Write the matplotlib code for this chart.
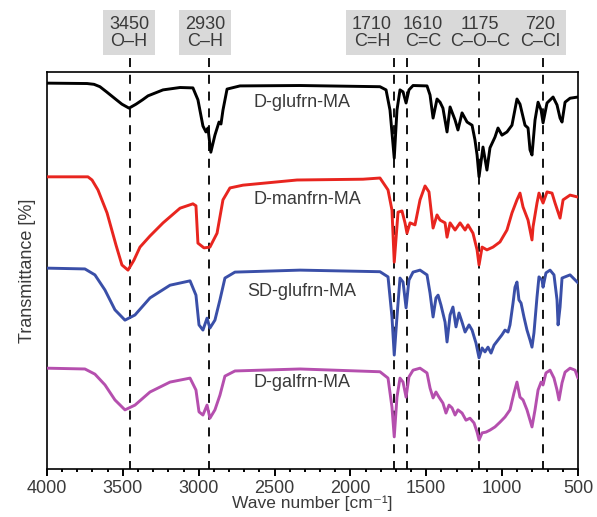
import numpy as np
import matplotlib.pyplot as plt
import matplotlib.transforms as mtransforms

plt.rcParams['font.family'] = ['Liberation Sans', 'DejaVu Sans']

# D-glufrn-MA (preto)
wn_glu = [4000, 3736, 3690, 3651, 3604, 3539, 3506, 3459, 3413, 3370, 3334, 3235, 3123, 3038, 3005,
          2972, 2952, 2939, 2920, 2893, 2866, 2853, 2840, 2813, 2728, 2332, 1805, 1765, 1739, 1711,
          1693, 1673, 1653, 1633, 1614, 1587, 1495, 1475, 1455, 1429, 1409, 1390, 1363, 1343, 1310,
          1291, 1264, 1231, 1198, 1179, 1165, 1152, 1126, 1100, 1080, 1047, 1027, 1001, 968, 935, 902,
          882, 849, 829, 816, 803, 783, 763, 743, 730, 704, 664, 638, 618, 605, 585, 552, 500]
t_glu = [97.2, 97.1, 96.9, 96.3, 94.9, 92.9, 91.9, 90.9, 91.9, 93.0, 94.0, 95.5, 96.1, 96.0, 93.0,
         86.4, 84.9, 85.9, 79.8, 84.1, 87.4, 86.9, 90.4, 95.7, 96.5, 96.6, 96.3, 95.5, 90.4, 78.3,
         90.4, 95.5, 95.0, 92.2, 95.5, 96.6, 96.5, 94.2, 88.4, 93.2, 92.4, 90.9, 84.9, 91.2, 87.9,
         85.4, 89.7, 87.4, 86.6, 82.9, 79.1, 73.6, 81.1, 75.3, 80.9, 83.6, 85.9, 84.1, 84.9, 86.6, 93.2,
         91.9, 86.6, 85.9, 80.4, 79.1, 87.9, 92.4, 90.4, 87.2, 92.2, 93.7, 91.7, 88.4, 87.4, 92.4, 93.4,
         93.7]

# D-manfrn-MA (vermelho)
wn_man = [4000, 3730, 3703, 3664, 3604, 3545, 3506, 3466, 3427, 3387, 3321, 3235, 3123, 3038, 3018,
          3005, 2965, 2926, 2879, 2840, 2794, 2708, 2352, 1917, 1805, 1752, 1726, 1711, 1686, 1660,
          1640, 1627, 1607, 1574, 1541, 1508, 1482, 1455, 1429, 1409, 1376, 1363, 1343, 1310, 1277,
          1244, 1225, 1192, 1165, 1152, 1132, 1100, 1060, 1014, 968, 935, 902, 882, 862, 829, 803,
          796, 770, 757, 730, 704, 671, 651, 618, 598, 552, 500]
t_man = [73.6, 73.6, 72.8, 70.3, 64.5, 56.4, 51.4, 50.1, 52.6, 55.9, 58.7, 62.0, 65.7, 66.8, 66.3,
         56.9, 55.7, 55.9, 59.4, 67.8, 70.8, 71.5, 72.8, 73.0, 73.3, 70.3, 65.2, 52.1, 64.7, 65.0,
         62.0, 59.4, 62.0, 61.5, 67.8, 71.3, 69.8, 60.7, 64.0, 62.7, 62.0, 58.4, 62.0, 60.2, 62.0,
         60.2, 61.5, 59.4, 55.2, 51.4, 55.9, 55.2, 55.9, 57.2, 60.2, 64.5, 67.8, 69.5, 66.0, 62.7, 57.7,
         61.0, 67.0, 69.5, 67.0, 69.8, 69.5, 67.0, 63.2, 67.8, 69.0, 68.5]

# SD-glufrn-MA (azul)
wn_sd = [4000, 3750, 3684, 3618, 3552, 3486, 3420, 3321, 3189, 3057, 3018, 2998, 2972, 2945, 2926,
         2893, 2860, 2827, 2761, 2332, 1805, 1752, 1726, 1711, 1693, 1673, 1653, 1633, 1614, 1587,
         1541, 1495, 1475, 1455, 1436, 1422, 1403, 1376, 1363, 1343, 1324, 1304, 1284, 1264, 1244,
         1218, 1198, 1172, 1152, 1132, 1113, 1093, 1073, 1053, 1027, 1001, 981, 961, 948, 928, 915,
         902, 889, 875, 856, 836, 816, 803, 790, 770, 757, 737, 730, 711, 684, 658, 638, 631, 618,
         605, 552, 500]
t_sd = [50.6, 50.4, 48.9, 45.1, 40.1, 37.5, 38.8, 43.1, 46.3, 47.4, 43.8, 36.3, 35.0, 38.0, 35.5,
        37.5, 42.6, 48.1, 49.6, 50.1, 49.7, 48.4, 38.3, 28.7, 38.3, 48.1, 47.1, 40.6, 47.6, 49.6,
        50.1, 48.9, 44.3, 38.3, 43.1, 43.8, 41.3, 37.0, 32.0, 38.8, 40.8, 35.8, 39.3, 37.0, 34.5,
        36.3, 35.0, 31.7, 28.0, 30.5, 29.5, 30.7, 29.2, 31.2, 32.5, 33.8, 35.0, 34.5, 36.3, 41.8, 45.8,
        47.1, 42.6, 41.8, 38.3, 35.0, 32.5, 30.7, 34.3, 43.3, 48.4, 47.6, 45.8, 49.4, 50.1, 48.9, 42.6,
        36.3, 40.8, 48.1, 48.9, 46.9]

# D-galfrn-MA (magenta)
wn_gal = [4000, 3750, 3684, 3618, 3552, 3486, 3420, 3321, 3189, 3057, 3018, 2998, 2972, 2945, 2926,
          2893, 2860, 2827, 2761, 2332, 1805, 1752, 1726, 1711, 1693, 1673, 1653, 1633, 1614, 1587,
          1541, 1495, 1475, 1455, 1436, 1416, 1390, 1370, 1350, 1330, 1310, 1291, 1264, 1238, 1212,
          1185, 1165, 1152, 1132, 1106, 1080, 1047, 1014, 981, 948, 922, 902, 882, 862, 836, 816,
          803, 783, 763, 743, 730, 711, 684, 658, 638, 625, 605, 585, 552, 519, 500]
t_gal = [25.4, 25.2, 23.9, 21.2, 17.4, 14.9, 16.1, 19.4, 21.9, 22.9, 19.9, 14.4, 13.6, 16.1, 12.8,
         14.9, 18.6, 23.4, 24.7, 25.2, 24.5, 22.9, 15.6, 8.1, 18.1, 22.9, 21.9, 18.1, 23.2, 24.9,
         25.4, 24.2, 20.4, 17.9, 19.4, 18.1, 16.6, 14.1, 16.1, 15.4, 13.6, 14.9, 14.1, 12.3, 12.8,
         11.6, 9.3, 7.3, 9.1, 9.3, 9.8, 10.6, 11.8, 13.1, 14.9, 19.1, 21.9, 18.1, 17.4, 14.9, 12.3,
         10.6, 14.9, 19.9, 21.9, 21.2, 24.2, 24.9, 22.9, 19.9, 17.4, 21.7, 24.4, 25.4, 24.9, 22.9]

# bandas marcadas
pos_bandas = [3450, 2930, 1710, 1630, 1150, 730]
rotulos = ["3450\nO\u2013H", "2930\nC\u2013H", "1710\nC=H", "1610\nC=C",
           "1175\nC\u2013O\u2013C", "720\nC\u2013Cl"]
pos_rotulos = [3459, 2958, 1858, 1521, 1146, 750]

nomes = ["D-glufrn-MA", "D-manfrn-MA", "SD-glufrn-MA", "D-galfrn-MA"]
nome_x = [2642, 2642, 2682, 2642]
nome_y = [92.2, 67.8, 44.6, 21.7]

cinza = '#3a3a3a'

fig = plt.figure(figsize=(5.97, 5.17), dpi=100)
ax = fig.add_axes([0.0787, 0.0928, 0.8894, 0.7679])

trans = mtransforms.blended_transform_factory(ax.transData, ax.transAxes)
for p in pos_bandas:
    ax.plot([p, p], [1.035, 0.0], transform=trans, color='black', lw=1.3,
            dashes=(5, 4.3), clip_on=False, zorder=1)

estilo = dict(lw=2.1, zorder=3, solid_joinstyle='round', solid_capstyle='round')
ax.plot(wn_glu, t_glu, color='black', **estilo)
ax.plot(wn_man, t_man, color='#e8251f', **estilo)
ax.plot(wn_sd, t_sd, color='#3a4fa8', **estilo)
ax.plot(wn_gal, t_gal, color='#b54fae', **estilo)

for n, x, y in zip(nomes, nome_x, nome_y):
    ax.text(x, y, n, fontsize=13, color=cinza, ha='left', va='center')

for r, x in zip(rotulos, pos_rotulos):
    ax.text(x, 1.0995, r, transform=trans, fontsize=13, color=cinza, ha='center',
            va='center', linespacing=1.0,
            bbox=dict(boxstyle='square,pad=0.32', fc='#d9d9d9', ec='none'))

ax.set_xlim(4000, 500)
ax.set_ylim(0, 100)
ax.set_xticks(np.arange(4000, 499, -500))
ax.set_xticks(np.arange(4000, 499, -100), minor=True)
ax.set_yticks([])
ax.tick_params(axis='x', which='major', direction='out', length=5, width=1.4,
               labelsize=13, labelcolor=cinza, pad=3)
ax.tick_params(axis='x', which='minor', direction='out', length=2.5, width=1.4)
for s in ax.spines.values():
    s.set_linewidth(1.2)

ax.set_xlabel("Wave number [cm\u207b\u00b9]", fontsize=12.5, color=cinza, labelpad=-1)
ax.set_ylabel("Transmittance [%]", fontsize=13, color=cinza, labelpad=8)

fig.savefig("out.png", dpi=100)
